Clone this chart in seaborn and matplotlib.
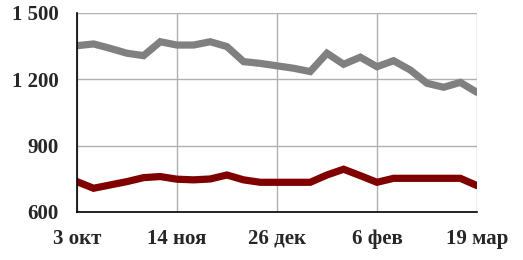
import matplotlib
matplotlib.use("Agg")
import matplotlib.pyplot as plt
import seaborn as sns
import pandas as pd
import numpy as np

weeks = list(range(25))
gray_vals = [1352, 1360, 1340, 1318, 1307, 1370, 1355, 1355, 1370, 1348,
             1280, 1272, 1261, 1250, 1235, 1318, 1268, 1300, 1257, 1284,
             1242, 1182, 1164, 1186, 1141]
red_vals = [737, 707, 722, 737, 755, 760, 748, 745, 749, 767,
            745, 734, 734, 734, 734, 767, 793, 764, 734, 752,
            752, 752, 752, 752, 719]
xtick_pos = [0, 6, 12, 18, 24]
xtick_labels = ["3 окт", "14 ноя", "26 дек", "6 фев", "19 мар"]
ytick_pos = [600, 900, 1200, 1500]
ytick_labels = ["600", "900", "1 200", "1 500"]

sns.set_style("white")
plt.rcParams['font.family'] = ['Liberation Serif', 'DejaVu Serif']

df = pd.DataFrame({"week": weeks + weeks,
                   "value": gray_vals + red_vals,
                   "series": ["gray"] * len(weeks) + ["red"] * len(weeks)})

fig = plt.figure(figsize=(5.23, 2.60), dpi=100)
ax = fig.add_axes([0.147, 0.185, 0.765, 0.765])
sns.lineplot(data=df, x="week", y="value", hue="series",
             palette={"gray": "#808080", "red": "#800000"},
             linewidth=5.2, legend=False, ax=ax, zorder=3)
for l in ax.lines:
    l.set_solid_joinstyle("miter")

ax.set_xlim(0, 24)
ax.set_ylim(600, 1500)
ax.set_xticks(xtick_pos)
ax.set_xticklabels(xtick_labels, fontsize=15, fontweight="bold")
ax.set_yticks(ytick_pos)
ax.set_yticklabels(ytick_labels, fontsize=15, fontweight="bold")
ax.set_xlabel("")
ax.set_ylabel("")
ax.grid(True, color="#b0b0b0", linewidth=1.0, zorder=0)
ax.tick_params(axis="both", direction="in", length=4, width=1, color="black")
ax.tick_params(axis="x", pad=12)
ax.tick_params(axis="y", pad=13)
for s in ["top", "right"]:
    ax.spines[s].set_visible(False)
for s in ["left", "bottom"]:
    ax.spines[s].set_color("black")
    ax.spines[s].set_linewidth(1.2)
    ax.spines[s].set_zorder(4)
fig.savefig("out.png", dpi=100)
